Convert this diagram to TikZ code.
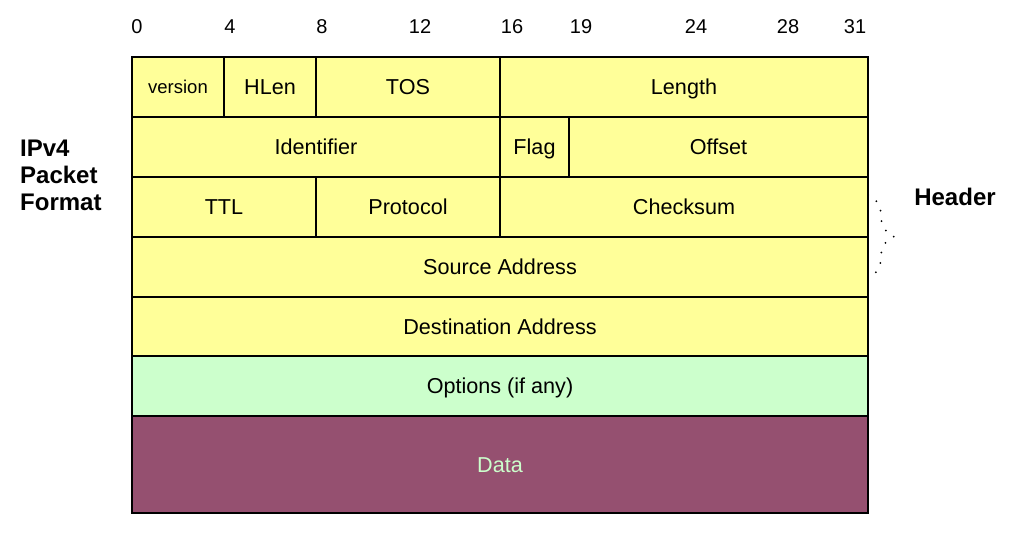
\documentclass[tikz,border=0pt]{standalone}
\usepackage{fontspec}
\setmainfont{Liberation Sans}
\usetikzlibrary{decorations.pathreplacing}
\definecolor{hdryellow}{RGB}{255,255,153}
\definecolor{optgreen}{RGB}{204,255,204}
\definecolor{datapurple}{RGB}{149,80,112}
\begin{document}
\begin{tikzpicture}[x=1pt,y=-1pt,
  cell/.style={draw=black, line width=1.4pt, fill=hdryellow, inner sep=0pt, minimum height=60,
    font=\fontsize{21.6}{25}\selectfont, text height=15.5pt, text depth=0pt},
  bitnum/.style={font=\fontsize{20}{24}\selectfont, inner sep=0pt},
  side/.style={font=\fontsize{24}{28}\selectfont\bfseries, inner sep=0pt}]
\useasboundingbox (0,0) rectangle (1009,537);
% bit numbers
\node[bitnum] (b0) at (137,27) {0};
\node[bitnum] (b4) at (230,27) {4};
\node[bitnum] (b8) at (322,27) {8};
\node[bitnum] (b12) at (420,27) {12};
\node[bitnum] (b16) at (512,27) {16};
\node[bitnum] (b19) at (581,27) {19};
\node[bitnum] (b24) at (696,27) {24};
\node[bitnum] (b28) at (788,27) {28};
\node[bitnum] (b31) at (855,27) {31};
% row 1
\node[cell, minimum width=92, font=\fontsize{18.5}{22}\selectfont, text height=13.5pt] (ver) at (178,87) {version};
\node[cell, minimum width=92] (hlen) at (270,87) {HLen};
\node[cell, minimum width=184] (tos) at (408,87) {TOS};
\node[cell, minimum width=368] (len) at (684,87) {Length};
% row 2
\node[cell, minimum width=368] (ident) at (316,147) {Identifier};
\node[cell, minimum width=69] (flag) at (534.5,147) {Flag};
\node[cell, minimum width=299] (off) at (718.5,147) {Offset};
% row 3
\node[cell, minimum width=184] (ttl) at (224,207) {TTL};
\node[cell, minimum width=184] (proto) at (408,207) {Protocol};
\node[cell, minimum width=368] (chk) at (684,207) {Checksum};
% rows 4-7
\node[cell, minimum width=736] (src) at (500,267) {Source Address};
\node[cell, minimum width=736, minimum height=59] (dst) at (500,326.5) {Destination Address};
\node[cell, minimum width=736, fill=optgreen] (opt) at (500,386) {Options (if any)};
\node[cell, minimum width=736, minimum height=97, fill=datapurple, text=optgreen] (data) at (500,464.5) {Data};
% side labels
\node[side, align=left, anchor=west] (title) at (20,175) {IPv4\\[-1pt]Packet\\[-1pt]Format};
\node[side] (hdr) at (955,197) {Header};
% dotted brace
\coordinate (htop) at (868,195);
\coordinate (hbot) at (868,278);
\draw[line width=2pt, line cap=round, dash pattern=on 0pt off 10.5pt,
  decorate, decoration={brace, amplitude=26pt, aspect=0.5}] (htop) -- (hbot);
\end{tikzpicture}
\end{document}
